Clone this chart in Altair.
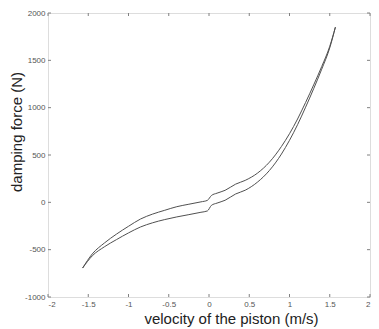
import altair as alt
import pandas as pd

# ---- data ----
velocity = [-1.57, -1.45, -1.3, -1.15, -1.0, -0.85, -0.7, -0.55, -0.4, -0.25, -0.1, -0.02,
            0.03, 0.1, 0.2, 0.33, 0.45, 0.6, 0.75, 0.9, 1.0, 1.1, 1.2, 1.3, 1.4, 1.5, 1.57]
force_upper = [-694, -545, -430, -336, -253, -176, -124, -84, -46, -20, 5, 21,
               72, 97, 127, 192, 232, 307, 424, 590, 725, 880, 1055, 1240, 1434, 1648, 1850]
force_lower = [-694, -565, -470, -394, -323, -260, -216, -182, -154, -130, -105, -91,
               -32, -8, 22, 88, 128, 212, 336, 510, 655, 820, 1005, 1200, 1406, 1632, 1850]

x_ticks = [-2, -1.5, -1, -0.5, 0, 0.5, 1, 1.5, 2]
y_ticks = [-1000, -500, 0, 500, 1000, 1500, 2000]

W, H = 322, 284
FONT = "Liberation Sans"
AX = "#808080"

rows = []
for name, ys in (("upper", force_upper), ("lower", force_lower)):
    for v, f in zip(velocity, ys):
        rows.append({"v": v, "f": f, "branch": name})
df = pd.DataFrame(rows)

xscale = alt.Scale(domain=[-2, 2], nice=False, zero=False)
yscale = alt.Scale(domain=[-1000, 2000], nice=False, zero=False)

xaxis = alt.Axis(values=x_ticks, labelExpr="'' + datum.value", tickSize=0, domain=False,
                 grid=False, labelFont=FONT, labelFontSize=8, labelColor="#555555",
                 labelPadding=3, title="velocity of the piston (m/s)", titleFont=FONT,
                 titleFontSize=15, titleFontWeight="normal", titleColor="#222222",
                 titleX=183, titleY=26, titleBaseline="alphabetic")
yaxis = alt.Axis(values=y_ticks, labelExpr="'' + datum.value", tickSize=0, domain=False,
                 grid=False, labelFont=FONT, labelFontSize=8, labelColor="#555555",
                 labelPadding=3, title="damping force (N)", titleFont=FONT,
                 titleFontSize=15, titleFontWeight="normal", titleColor="#222222",
                 titleX=-26.5, titleY=118.5, titleBaseline="alphabetic")

curve = alt.Chart(df).mark_line(color="#505050", strokeWidth=1, interpolate="monotone").encode(
    x=alt.X("v:Q", scale=xscale, axis=xaxis),
    y=alt.Y("f:Q", scale=yscale, axis=yaxis),
    detail="branch:N",
)

xt = pd.DataFrame({"t": x_ticks})
yt = pd.DataFrame({"t": y_ticks})
tick_style = dict(color=AX, strokeWidth=1)

xb = alt.Chart(xt).mark_rule(**tick_style).encode(
    x=alt.X("t:Q", scale=xscale), y=alt.value(H), y2=alt.value(H - 3))
xtop = alt.Chart(xt).mark_rule(**tick_style).encode(
    x=alt.X("t:Q", scale=xscale), y=alt.value(0), y2=alt.value(3))
yl = alt.Chart(yt).mark_rule(**tick_style).encode(
    y=alt.Y("t:Q", scale=yscale), x=alt.value(0), x2=alt.value(3))
yr = alt.Chart(yt).mark_rule(**tick_style).encode(
    y=alt.Y("t:Q", scale=yscale), x=alt.value(W), x2=alt.value(W - 3))

chart = alt.layer(xb, xtop, yl, yr, curve).properties(
    width=W, height=H,
    autosize=alt.AutoSizeParams(type="none"),
    padding={"left": 40, "top": 5, "right": 1, "bottom": 32},
).configure_view(stroke=AX, strokeWidth=1).configure(background="white")

chart.save("out.html", embed_options={"renderer": "svg", "actions": False})
